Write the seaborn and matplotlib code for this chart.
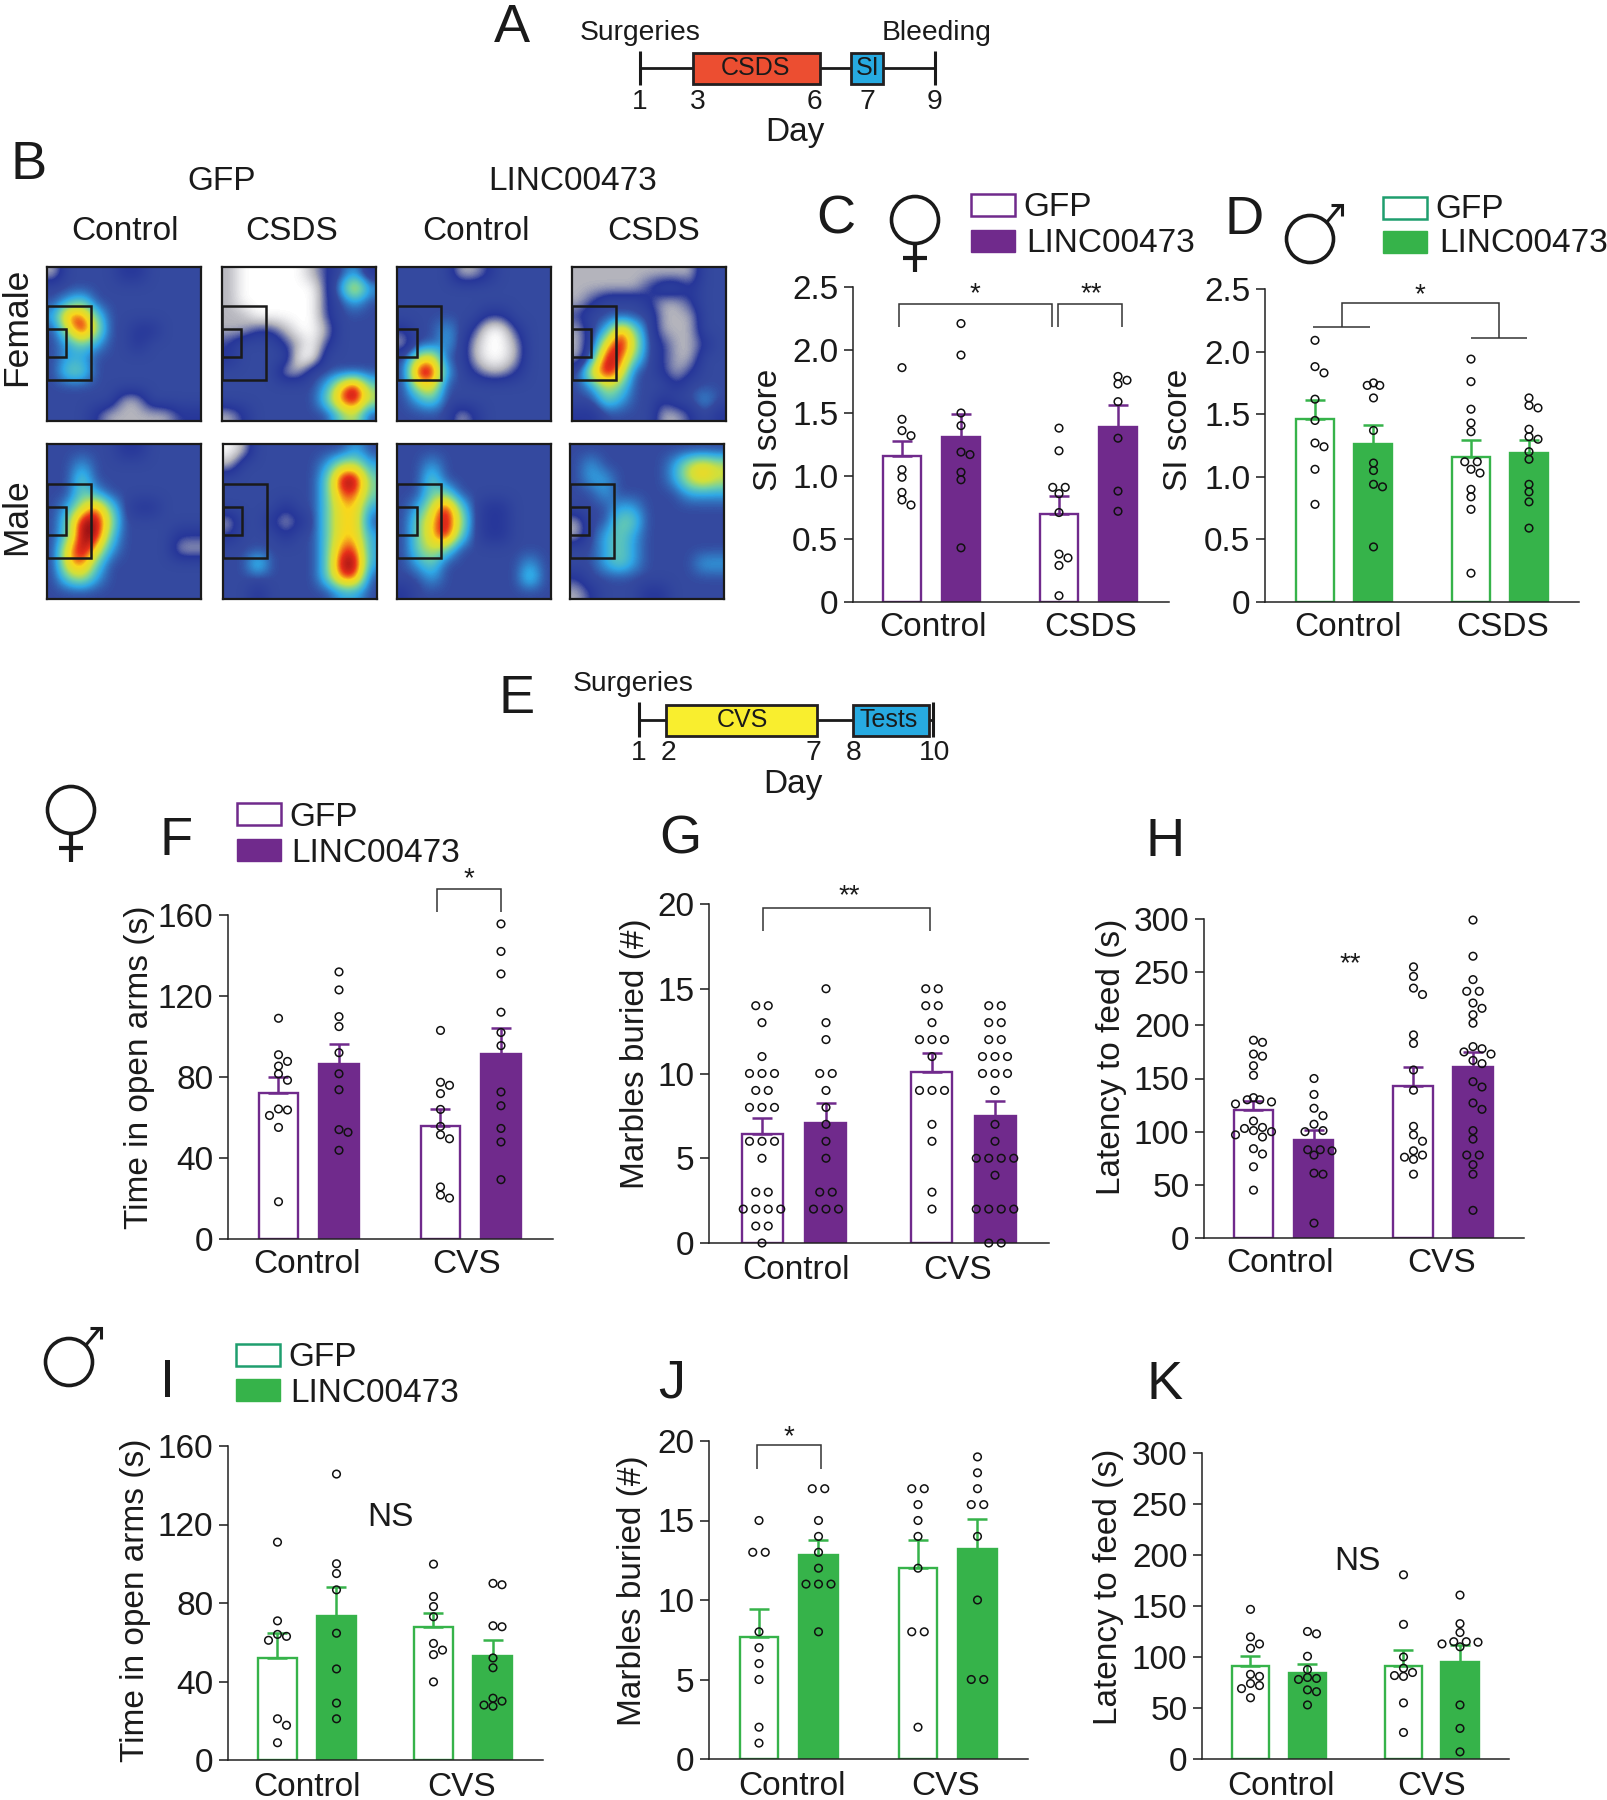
import numpy as np
import pandas as pd
import matplotlib
matplotlib.use("Agg")
import matplotlib.pyplot as plt
from matplotlib.colors import LinearSegmentedColormap
from matplotlib.patches import Rectangle, Ellipse
import seaborn as sns

W, H = 1608, 1800
PURPLE = "#702a8c"
GREEN = "#36b34a"
TEAL = "#1f9e6e"
INK = "#1a1a1a"

# heat maps (B), read by eye on a coarse grid: 0 white, 1 grey, 2-3 blue, 4-5 cyan, 6-7 yellow, 8-9 red
female_gfp_control = ["13333223333", "33333333333", "34533333333", "48853333333", "36963322333", "34543323333",
                      "34433333333", "35533333333", "33333333333", "33333113333", "33321111122"]
female_gfp_csds = ["10000012342", "10000002474", "10000002343", "11000002333", "11221001333", "23332102333",
                   "23333003333", "33331133333", "33333334795", "33333335896", "12333333563"]
female_linc_control = ["33331123333", "33333333333", "33333333333", "33333322333", "23343200233", "13343100133",
                       "36733100133", "39943211233", "36733333333", "34533333333", "33331233333"]
female_linc_csds = ["11111111133", "11111233233", "12333211233", "23333311133", "13485311133", "13796321123",
                    "14985321133", "37973321233", "34653332333", "33543323343", "22333311232"]
male_gfp_control = ["33333223333", "33433333333", "33533333333", "33543333333", "34685322333", "35996333333",
                    "35995333322", "37974333311", "37853333333", "35643333333", "33333333333"]
male_gfp_csds = ["01333333343", "13333334664", "33333335995", "33333335885", "33332335774", "13321235773",
                 "23332335774", "33333335884", "33533335994", "33333335883", "33233333443"]
male_linc_control = ["33333333333", "33433333333", "33533333333", "33553333333", "34695322333", "35796322333",
                     "35795322333", "35653333333", "34533333343", "33433333353", "23333333333"]
male_linc_csds = ["33333333333", "34333334676", "34433334676", "33433333444", "33344333333", "13355333333",
                  "13454333333", "33454333333", "33454333344", "23333333333", "12333223333"]

# C, SI score female
c_means = [1.16, 1.31, 0.70, 1.39]
c_tops = [1.28, 1.49, 0.84, 1.56]
c_gfp_ctrl = [1.86, 1.45, 1.36, 1.32, 1.05, 0.99, 0.87, 0.81, 0.77]
c_linc_ctrl = [2.21, 1.96, 1.50, 1.40, 1.19, 1.17, 1.03, 0.97, 0.43]
c_gfp_stress = [1.38, 1.20, 0.91, 0.91, 0.86, 0.71, 0.38, 0.35, 0.29, 0.05]
c_linc_stress = [1.79, 1.76, 1.73, 1.59, 1.30, 0.88, 0.72]

# D, SI score male
d_means = [1.46, 1.26, 1.16, 1.19]
d_tops = [1.61, 1.41, 1.29, 1.29]
d_gfp_ctrl = [2.09, 1.88, 1.83, 1.62, 1.45, 1.27, 1.24, 1.06, 0.78]
d_linc_ctrl = [1.75, 1.73, 1.73, 1.63, 1.37, 1.11, 1.05, 0.94, 0.92, 0.44]
d_gfp_stress = [1.94, 1.76, 1.54, 1.43, 1.36, 1.12, 1.12, 1.06, 1.03, 0.90, 0.84, 0.74, 0.23]
d_linc_stress = [1.63, 1.57, 1.55, 1.38, 1.32, 1.30, 1.20, 1.14, 0.94, 0.88, 0.80, 0.59]

# F, open arms female
f_means = [72, 86.6, 55.8, 91.5]
f_tops = [79.8, 96.5, 64, 104.2]
f_gfp_ctrl = [109, 91, 87.7, 85.4, 81.5, 78.4, 64.2, 63.7, 61, 55.1, 18.4]
f_linc_ctrl = [131.9, 123, 109.8, 104.9, 92, 81.6, 73.7, 54, 52.7, 43.8]
f_gfp_stress = [103, 77.4, 75.9, 71.8, 64, 55.6, 51.5, 49.5, 25.7, 21.7, 20.2]
f_linc_stress = [155.6, 142, 130.9, 112, 102, 95.5, 72.6, 65.8, 54.6, 47.9, 29.3]

# G, marbles female
g_means = [6.44, 7.09, 10.1, 7.47]
g_tops = [7.37, 8.25, 11.2, 8.39]
g_gfp_ctrl = [14, 14, 13, 11, 10, 10, 10, 9, 9, 8, 8, 8, 6, 6, 6, 5, 3, 3, 2, 2, 2, 2, 1, 1, 0]
g_linc_ctrl = [15, 13, 12, 10, 10, 9, 8, 7, 6, 5, 3, 3, 2, 2, 2]
g_gfp_stress = [15, 15, 14, 14, 13, 12, 12, 12, 11, 9, 9, 9, 7, 6, 3, 2]
g_linc_stress = [14, 14, 13, 13, 12, 12, 11, 11, 11, 10, 10, 10, 9, 7, 6, 5, 5, 5, 5, 4, 2, 2, 2, 2, 0, 0]

# H, latency female
h_means = [120.4, 92, 142.6, 161]
h_tops = [128.9, 101.7, 161, 174.9]
h_gfp_ctrl = [186, 184, 173, 171, 162, 153, 132, 130, 130, 128, 126, 110, 104, 103, 101, 100, 97, 95, 84, 79, 67, 45]
h_linc_ctrl = [150, 135, 122, 115, 107, 101, 100, 83, 83, 82, 78, 61, 60, 14]
h_gfp_stress = [255, 246, 235, 229, 191, 183, 158, 139, 105, 97, 91, 82, 78, 76, 74, 60]
h_linc_stress = [299, 265, 243, 232, 232, 221, 216, 210, 202, 180, 178, 175, 173, 167, 164, 147, 142, 127, 121, 101,
                 93, 78, 78, 69, 60, 26]

# I, open arms male
i_means = [51.9, 73.3, 67.9, 53]
i_tops = [64.5, 88.3, 74.8, 61]
i_gfp_ctrl = [111, 70.9, 64, 63, 61, 21, 17.7, 8.8]
i_linc_ctrl = [145.7, 100, 95, 86.7, 64.6, 46.4, 29, 21]
i_gfp_stress = [99.8, 83.3, 78.2, 73, 59.4, 56, 53.7, 39.8]
i_linc_stress = [90, 89.3, 68.4, 67.9, 52, 47, 31.5, 30, 28, 27.4]

# J, marbles male
j_means = [7.66, 12.8, 12, 13.2]
j_tops = [9.42, 13.8, 13.8, 15.1]
j_gfp_ctrl = [15, 13, 13, 8, 7, 6, 5, 2, 1]
j_linc_ctrl = [17, 17, 15, 14, 13, 12, 11, 11, 11, 8]
j_gfp_stress = [17, 17, 16, 15, 14, 12, 8, 8, 2]
j_linc_stress = [19, 18, 17, 16, 16, 14, 10, 5, 5]

# K, latency male
k_means = [91.3, 84.8, 91, 94.9]
k_tops = [101.4, 93.6, 107.3, 111.5]
k_gfp_ctrl = [146.7, 119.7, 112.8, 108.6, 83, 81, 74, 72, 69, 60]
k_linc_ctrl = [125, 122.7, 100.7, 87.7, 79.9, 79, 78, 67.8, 66, 53]
k_gfp_stress = [180.6, 132, 100, 89, 84.8, 81.8, 81, 55, 26]
k_linc_stress = [160.7, 132.7, 124, 115, 115, 114.5, 112.8, 110, 53, 30, 7]

si_ticks = ["0", "0.5", "1.0", "1.5", "2.0", "2.5"]

sns.set_theme(style="ticks")
plt.rcParams["font.family"] = ["Liberation Sans", "DejaVu Sans"]
plt.rcParams["text.color"] = INK
FS = 24

fig = plt.figure(figsize=(W / 100, H / 100), dpi=100, facecolor="white")


def px_axes(left, top, right, bottom):
    return fig.add_axes([left / W, 1 - bottom / H, (right - left) / W, (bottom - top) / H])


# everything that is not data (letters, brackets, schedules) goes on this pixel canvas
canvas = fig.add_axes([0, 0, 1, 1], zorder=10)
canvas.set_xlim(0, W)
canvas.set_ylim(H, 0)
canvas.axis("off")
canvas.patch.set_alpha(0)


def label(x, y, s, size=FS, **kw):
    canvas.text(x, y + 3, s, fontsize=size, ha="center", va="center", **kw)


def seg(xs, ys, lw=1.1, color="#333333"):
    canvas.plot(xs, ys, color=color, lw=lw, solid_capstyle="butt", solid_joinstyle="miter")


def bracket(x1, x2, top, low1, low2=None):
    seg([x1, x1, x2, x2], [low1, top, top, low1 if low2 is None else low2])


def female(x, y):
    canvas.add_patch(Ellipse((x, y), 47, 47, fill=False, ec=INK, lw=2.6))
    seg([x, x], [y + 23, y + 52], lw=3, color=INK)
    seg([x - 12, x + 12], [y + 38, y + 38], lw=3, color=INK)


def male(x, y):
    canvas.add_patch(Ellipse((x, y), 47, 47, fill=False, ec=INK, lw=2.6))
    seg([x + 17, x + 31], [y - 17, y - 34], lw=2.2, color=INK)
    seg([x + 21, x + 32, x + 32], [y - 34, y - 34, y - 23], lw=2.2, color=INK)


def legend_keys(x0, x1, y1, y2, color, outline, xa, xb, ty1, ty2):
    canvas.add_patch(Rectangle((x0, y1), x1 - x0, 22, fc="white", ec=outline, lw=1.8))
    canvas.add_patch(Rectangle((x0, y2), x1 - x0, 22, fc=color, ec=color, lw=1.0))
    canvas.text(xa, ty1 + 3, "GFP", fontsize=FS, ha="left", va="center")
    canvas.text(xb, ty2 + 3, "LINC00473", fontsize=FS, ha="left", va="center")


def timeline(xs, y, boxes, tick_top, tick_bot):
    seg([xs[0], xs[-1]], [y, y], lw=2, color=INK)
    for x in xs:
        seg([x, x], [tick_top, tick_bot], lw=2.2, color=INK)
    for x0, x1, c in boxes:
        canvas.add_patch(Rectangle((x0, y - 15.5), x1 - x0, 31, fc=c, ec="#231f20", lw=2, zorder=3))


def swarm(vals, px_per_unit, row_step=12.5, step=9.0, near=7.5):
    # tied values sit in a centred row, the others step aside only when they would touch
    vals = sorted(vals, reverse=True)
    placed = []
    for v in sorted(set(vals), reverse=True):
        n = vals.count(v)
        if n > 1:
            placed += [((i - (n - 1) / 2) * row_step, v) for i in range(n)]
            continue
        for off in [0, step, -step, 2 * step, -2 * step]:
            if all(np.hypot(off - o, (v - u) * px_per_unit) >= near for o, u in placed):
                break
        placed.append((off, v))
    return placed


def bar_panel(box, bars_px, means, tops, points, color, ymax, yticks, ylabel, lab_xy, groups, group_px,
              ticklabels=None, xpad=8.5):
    left, top, right, bottom = box
    ax = px_axes(left, top, right, bottom)
    centers = [sum(b) / 2 for b in bars_px]
    g1, g2 = (centers[0] + centers[1]) / 2, (centers[2] + centers[3]) / 2
    unit = g2 - g1
    sep = ((centers[1] - centers[0]) + (centers[3] - centers[2])) / 2
    width = np.mean([b[1] - b[0] for b in bars_px])

    df = pd.DataFrame({"group": [groups[0], groups[0], groups[1], groups[1]],
                       "virus": ["GFP", "LINC00473", "GFP", "LINC00473"],
                       "mean": means})
    sns.barplot(data=df, x="group", y="mean", hue="virus", order=groups, hue_order=["GFP", "LINC00473"],
                palette={"GFP": "white", "LINC00473": color}, saturation=1, width=2 * sep / unit,
                gap=1 - width / sep, edgecolor=color, linewidth=1.7, legend=False, ax=ax, errorbar=None)

    xpos = [(c - g1) / unit for c in centers]
    ax.errorbar(xpos, means, yerr=[[0] * 4, np.array(tops) - np.array(means)], fmt="none", ecolor=color,
                elinewidth=1.8, capsize=7, capthick=1.8, zorder=4)

    ppu = (bottom - top) / ymax
    rows = []
    for xp, vals in zip(xpos, points):
        rows += [(xp + o / unit, v) for o, v in swarm(vals, ppu)]
    pts = pd.DataFrame(rows, columns=["x", "y"])
    sns.scatterplot(data=pts, x="x", y="y", s=30, facecolors="none", edgecolor="#111111", linewidth=1.1,
                    legend=False, ax=ax, zorder=5, clip_on=False)

    ax.set_xlim((left - g1) / unit, (right - g1) / unit)
    ax.set_ylim(0, ymax)
    ax.set_xticks([(p - g1) / unit for p in group_px], groups)
    ax.set_yticks(yticks, ticklabels or [f"{t:g}" for t in yticks])
    ax.tick_params(axis="x", length=0, pad=xpad, labelsize=FS, colors=INK)
    ax.tick_params(axis="y", length=6.5, width=1.1, pad=4, labelsize=FS, colors=INK)
    ax.set_xlabel("")
    ax.set_ylabel(ylabel, fontsize=FS, va="center", color=INK)
    ax.yaxis.set_label_coords((lab_xy[0] + 3.5 - left) / (right - left), (bottom - lab_xy[1]) / (bottom - top))
    sns.despine(ax=ax)
    for s in ["left", "bottom"]:
        ax.spines[s].set_linewidth(1.1)
        ax.spines[s].set_color("#222222")
    ax.patch.set_alpha(0)
    return ax


# panel A
timeline([640, 935], 68, [(693.5, 820, "#ec4e31"), (851, 883, "#27aae1")], 51, 85)
label(640, 30, "Surgeries", 20.3)
label(937, 30, "Bleeding", 20.3)
for x, s in zip([640, 698, 814, 867, 935], ["1", "3", "6", "7", "9"]):
    label(x, 99, s, 20.3)
label(795, 129, "Day")
label(755.5, 65, "CSDS", 18, zorder=5)
label(868, 65, "SI", 18, zorder=5)

# panel E
timeline([638.7, 933], 720, [(666, 817, "#f9ee2e"), (853, 929.4, "#27aae1")], 702, 737)
label(633, 681, "Surgeries", 20.3)
for x, s in zip([638.7, 668, 813, 853.6, 934.5], ["1", "2", "7", "8", "10"]):
    label(x, 750, s, 20.3)
label(793, 781, "Day")
label(742.4, 717, "CVS", 18, zorder=5)
label(889, 717, "Tests", 18, zorder=5)

# panel letters
for x, y, s in [(512, 25, "A"), (28.5, 162, "B"), (836, 217, "C"), (1244, 217, "D"), (517, 696, "E"), (176, 838, "F"),
                (680, 836, "G"), (1165, 839, "H"), (168, 1380, "I"), (672, 1380, "J"), (1165, 1382, "K")]:
    label(x, y, s, 39)

# panel B
heat_cmap = LinearSegmentedColormap.from_list(
    "occupancy", ["#ffffff", "#b4b4bc", "#27379a", "#34499f", "#2fa8e6", "#6fd0a8", "#d0e03c", "#f9d71c", "#e8301a",
                  "#8f0c14"])
heat_boxes = [((47, 267, 201, 421), female_gfp_control), ((222, 267, 376, 421), female_gfp_csds),
              ((397.5, 267, 551.5, 421), female_linc_control), ((572, 267, 726, 421), female_linc_csds),
              ((47, 444, 201, 599), male_gfp_control), ((223, 444, 377, 599), male_gfp_csds),
              ((397.5, 444, 551.5, 599), male_linc_control), ((570, 444, 724, 599), male_linc_csds)]
for (l, t, r, b), grid in heat_boxes:
    ax = px_axes(l, t, r, b)
    cells = np.array([[int(ch) for ch in row] for row in grid], dtype=float)
    ax.imshow(cells, cmap=heat_cmap, vmin=0, vmax=9, aspect="auto", interpolation="bicubic")
    ax.set_xticks([])
    ax.set_yticks([])
    for s in ax.spines.values():
        s.set_linewidth(1.6)
        s.set_color("#1a1a1a")
    ax.add_patch(Rectangle((0, 0.265), 0.285, 0.48, transform=ax.transAxes, fill=False, ec="#1a1a1a", lw=1.8))
    ax.add_patch(Rectangle((0, 0.415), 0.125, 0.18, transform=ax.transAxes, fill=False, ec="#1a1a1a", lw=1.8))
label(222, 179, "GFP")
label(573, 179, "LINC00473")
for x, s in [(125, "Control"), (292, "CSDS"), (476, "Control"), (654, "CSDS")]:
    label(x, 229, s)
canvas.text(17, 327, "Female", fontsize=25.5, rotation=90, ha="center", va="center")
canvas.text(17, 517, "Male", fontsize=25.5, rotation=90, ha="center", va="center")

# panels C and D
bar_panel((853, 287, 1169, 602), [(883, 921), (942, 980), (1040, 1078), (1099, 1137)], c_means, c_tops,
          [c_gfp_ctrl, c_linc_ctrl, c_gfp_stress, c_linc_stress], PURPLE, 2.5, [0, 0.5, 1, 1.5, 2, 2.5], "SI score",
          (765, 430), ["Control", "CSDS"], (932.7, 1091), si_ticks, xpad=7)
female(915, 220)
legend_keys(971.5, 1015, 193.5, 229.5, PURPLE, PURPLE, 1023.5, 1026, 205, 240)
bracket(899, 1052, 304, 327)
bracket(1058, 1122, 304, 327)
label(975, 291, "*", 20)
label(1091, 291, "**", 20)

bar_panel((1265, 289, 1579, 602), [(1296, 1334), (1355, 1392), (1452, 1490), (1510, 1548)], d_means, d_tops,
          [d_gfp_ctrl, d_linc_ctrl, d_gfp_stress, d_linc_stress], GREEN, 2.5, [0, 0.5, 1, 1.5, 2, 2.5], "SI score",
          (1175, 430), ["Control", "CSDS"], (1348, 1503), si_ticks, xpad=7)
male(1310, 239)
legend_keys(1383, 1427, 196.5, 231, GREEN, TEAL, 1435, 1439, 207, 241)
bracket(1342, 1499, 303, 327, 338)
seg([1313, 1370], [327, 327])
seg([1471, 1527], [338, 338])
label(1420, 292, "*", 20)

# female row
female(71, 810)
legend_keys(236.7, 281, 803, 839, PURPLE, PURPLE, 289, 291.7, 815, 850)
bar_panel((228, 915, 553, 1239), [(259, 298), (319, 359), (421, 460), (481, 521)], f_means, f_tops,
          [f_gfp_ctrl, f_linc_ctrl, f_gfp_stress, f_linc_stress], PURPLE, 160, [0, 40, 80, 120, 160],
          "Time in open arms (s)", (136, 1067), ["Control", "CVS"], (306.7, 466.7), xpad=7.5)
bracket(437, 501, 889, 912)
label(469, 876, "*", 20)

bar_panel((709, 904, 1049, 1243), [(742, 782), (805, 847), (912, 952), (974, 1016)], g_means, g_tops,
          [g_gfp_ctrl, g_linc_ctrl, g_gfp_stress, g_linc_stress], PURPLE, 20, [0, 5, 10, 15, 20],
          "Marbles buried (#)", (632, 1054), ["Control", "CVS"], (796, 957.7))
bracket(763, 930, 908, 931)
label(849, 893, "**", 20)

bar_panel((1204, 919, 1524, 1238), [(1234, 1273), (1294, 1334), (1394, 1433), (1453, 1493)], h_means, h_tops,
          [h_gfp_ctrl, h_linc_ctrl, h_gfp_stress, h_linc_stress], PURPLE, 300, [0, 50, 100, 150, 200, 250, 300],
          "Latency to feed (s)", (1108, 1057), ["Control", "CVS"], (1280, 1441.7), xpad=7)
label(1350, 961, "**", 20)

# male row
male(69, 1362)
legend_keys(236.5, 280, 1344, 1379, GREEN, TEAL, 288, 290.5, 1354, 1390)
bar_panel((228, 1446, 543, 1760), [(258, 297), (317, 356), (414, 453), (473, 513)], i_means, i_tops,
          [i_gfp_ctrl, i_linc_ctrl, i_gfp_stress, i_linc_stress], GREEN, 160, [0, 40, 80, 120, 160],
          "Time in open arms (s)", (132, 1600), ["Control", "CVS"], (307, 462))
label(390, 1514, "NS")

bar_panel((709, 1441, 1028, 1759), [(740, 778), (799, 838), (899, 937), (958, 997)], j_means, j_tops,
          [j_gfp_ctrl, j_linc_ctrl, j_gfp_stress, j_linc_stress], GREEN, 20, [0, 5, 10, 15, 20],
          "Marbles buried (#)", (629, 1591), ["Control", "CVS"], (791.7, 945.7))
bracket(757, 821, 1445, 1469)
label(789, 1434, "*", 20)

bar_panel((1202, 1453, 1509, 1759), [(1232, 1269), (1289, 1326), (1385, 1422), (1441, 1479)], k_means, k_tops,
          [k_gfp_ctrl, k_linc_ctrl, k_gfp_stress, k_linc_stress], GREEN, 300, [0, 50, 100, 150, 200, 250, 300],
          "Latency to feed (s)", (1105, 1587), ["Control", "CVS"], (1280.7, 1431.7))
label(1357, 1558, "NS")

fig.savefig("out.png", dpi=100)
